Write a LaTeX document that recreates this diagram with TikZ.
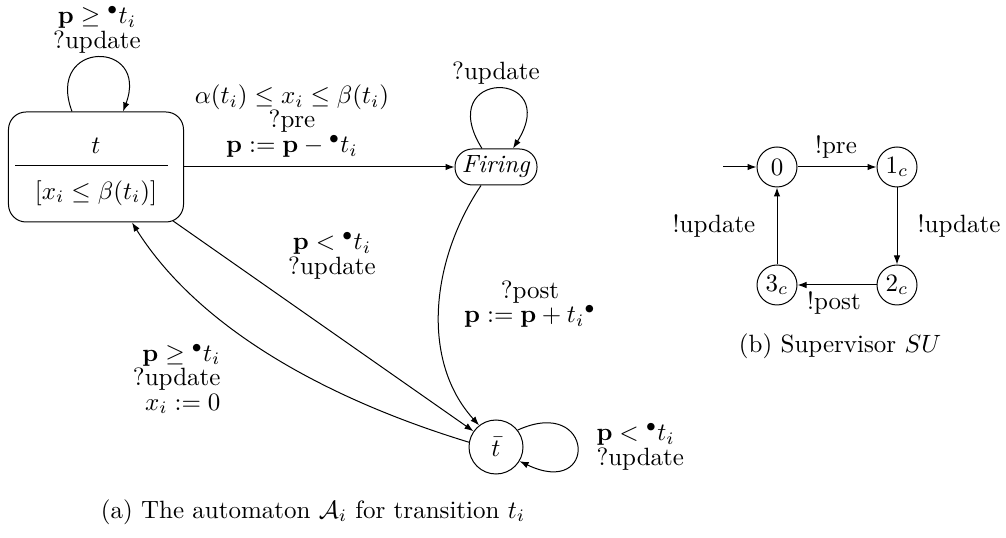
\documentclass[tikz,border=0pt]{standalone}
\usetikzlibrary{arrows.meta,calc}
\begin{document}
\begin{tikzpicture}[x=0.4pt,y=-0.4pt,
  arr/.style={-{Latex[length=3.6pt,width=2.6pt]}},
  lab/.style={align=center,inner sep=0pt,font=\fontsize{10pt}{9.8pt}\selectfont},
  bigstate/.style={draw,rectangle,rounded corners=7pt,minimum width=70pt,minimum height=44pt,inner sep=0pt},
  firestate/.style={draw,rectangle,rounded corners=7pt,minimum width=32.8pt,minimum height=14.4pt,inner sep=0pt},
  circstate/.style={draw,circle,minimum size=21.6pt,inner sep=0pt},
  sstate/.style={draw,circle,minimum size=16pt,inner sep=0pt}]
\useasboundingbox (0,0) rectangle (1006,538);
% ---------- automaton A_i ----------
\node[bigstate] (t) at (96,167) {};
\node[inner sep=0pt] (ttext) at (96,146) {$t$};
\node[inner sep=0pt] (tinv) at (96,193) {$[x_i \leq \beta(t_i)]$};
\draw (15,166) -- (168,166);
\node[firestate] (firing) at (496,167) {\textit{Firing}};
\node[circstate] (tbar) at (496,447) {$\bar{t}$};
% loops
\draw[arr] ($(t.north)+(-24,0)$) .. controls +(-27,-72) and +(27,-72) .. ($(t.north)+(27,0)$);
\draw[arr] ($(firing.north)+(-14,0)$) .. controls +(-50,-80) and +(50,-80) .. ($(firing.north)+(17,0)$);
\draw[arr] (tbar.38) .. controls +(77,-35) and +(79,38) .. (tbar.-31);
% edges
\draw[arr] (t) -- (firing);
\draw[arr,shorten <=-1.2pt] (t) -- (tbar);
\draw[arr] ($(firing.south)+(-15,0)$) .. controls +(-51,76) and +(-58,-64) .. (tbar.128);
\draw[arr] (tbar.170) .. controls +(-138,-42) and +(68,108) .. ($(t.south)+(36,0)$);
% labels
\node[lab] (lloopt) at (97,30) {$\mathbf{p} \geq {}^\bullet t_i$\\?update};
\node[lab] (lpre) at (292,121) {$\alpha(t_i) \leq x_i \leq \beta(t_i)$\\?pre\\$\mathbf{p} := \mathbf{p} - {}^\bullet t_i$};
\node[lab] (lfire) at (496,73) {?update};
\node[lab] (lless) at (332,256) {$\mathbf{p} < {}^\bullet t_i$\\?update};
\node[lab] (lpost) at (530,304) {?post\\$\mathbf{p} := \mathbf{p} + t_i{}^\bullet$};
\node[lab,align=right,anchor=east] (lback) at (221,379) {$\mathbf{p} \geq {}^\bullet t_i$\\?update\\$x_i := 0$};
\node[lab,align=left,anchor=west] (lself) at (596,447) {$\mathbf{p} < {}^\bullet t_i$\\?update};
\node[inner sep=0pt] (capa) at (313,512) {(a) The automaton $\mathcal{A}_i$ for transition $t_i$};
% ---------- supervisor SU ----------
\node[sstate] (s0) at (777,167) {$0$};
\node[sstate] (s1) at (897,167) {$1_c$};
\node[sstate] (s2) at (897,285) {$2_c$};
\node[sstate] (s3) at (777,285) {$3_c$};
\coordinate (init) at (723,167);
\draw[arr] (init) -- (s0);
\draw[arr] (s0) -- (s1);
\draw[arr] (s1) -- (s2);
\draw[arr] (s2) -- (s3);
\draw[arr] (s3) -- (s0);
\node[inner sep=0pt] (lpre2) at (836,147) {!pre};
\node[inner sep=0pt] (lupd1) at (714,226) {!update};
\node[inner sep=0pt] (lupd2) at (959,226) {!update};
\node[inner sep=0pt] (lpost2) at (834,303) {!post};
\node[inner sep=0pt] (capb) at (840,346) {(b) Supervisor $SU$};
\end{tikzpicture}
\end{document}
